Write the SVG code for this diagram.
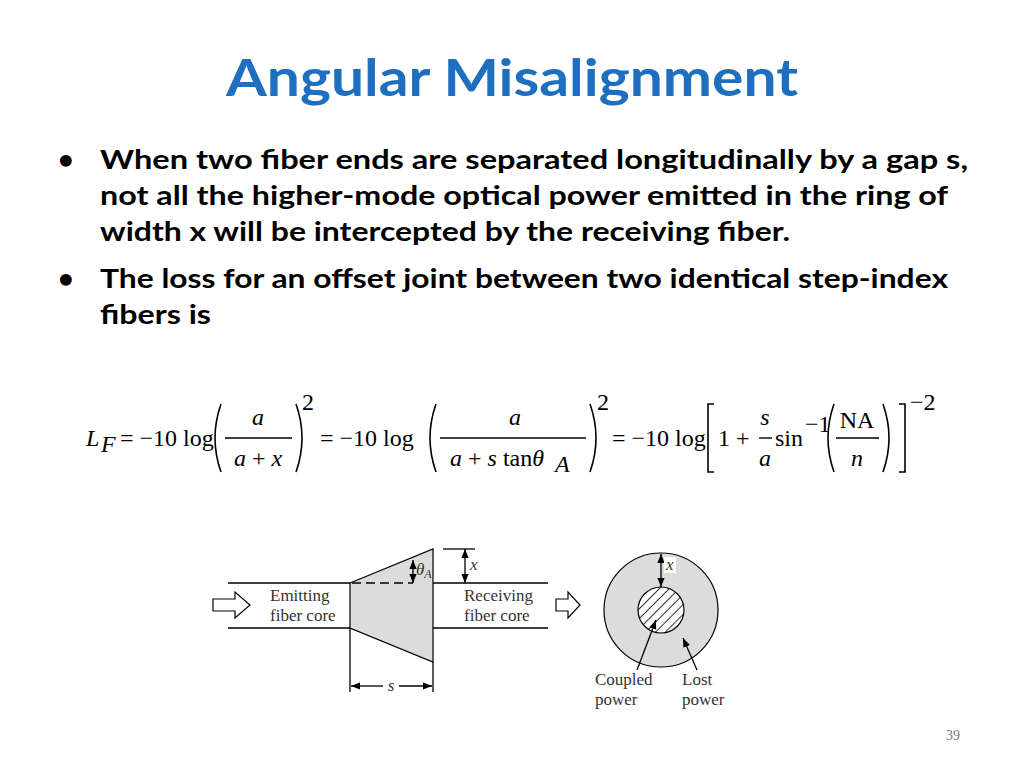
<svg xmlns="http://www.w3.org/2000/svg" width="1024" height="768" viewBox="0 0 1024 768">
<defs>
<style>
.b{font-family:Lato,"Liberation Sans",sans-serif;font-weight:bold;font-size:27px;fill:#000}
.m{font-family:"Liberation Serif",serif;font-size:24px;fill:#000}
.i{font-style:italic}
.f{font-family:"Liberation Serif",serif;font-size:17px;fill:#333}
.ln{stroke:#000;stroke-width:1.3;fill:none}
.p{stroke:#000;stroke-width:1.6;fill:none}
</style>
<pattern id="h" width="7" height="7" patternUnits="userSpaceOnUse" patternTransform="rotate(45)">
<rect width="7" height="7" fill="#fff"/><line x1="0" y1="0" x2="0" y2="7" stroke="#000" stroke-width="1.6"/>
</pattern>
<marker id="a" viewBox="0 0 10 10" refX="10" refY="5" markerWidth="7" markerHeight="7" orient="auto-start-reverse"><path d="M0,1 L10,5 L0,9 Z" fill="#000"/></marker>
</defs>
<rect width="1024" height="768" fill="#fff"/>
<text x="512" y="96" text-anchor="middle" font-family="Lato,'Liberation Sans',sans-serif" font-weight="bold" font-size="52" fill="#1F6FC0" textLength="572" lengthAdjust="spacingAndGlyphs">Angular Misalignment</text>
<g id="bullets">
<text x="58" y="169" class="b">•</text>
<text x="100" y="169" class="b" textLength="868" lengthAdjust="spacingAndGlyphs">When two fiber ends are separated longitudinally by a gap s,</text>
<text x="100" y="205" class="b" textLength="848" lengthAdjust="spacingAndGlyphs">not all the higher-mode optical power emitted in the ring of</text>
<text x="100" y="241" class="b" textLength="690" lengthAdjust="spacingAndGlyphs">width x will be intercepted by the receiving fiber.</text>
<text x="58" y="288" class="b">•</text>
<text x="100" y="288" class="b" textLength="848" lengthAdjust="spacingAndGlyphs">The loss for an offset joint between two identical step-index</text>
<text x="100" y="324" class="b" textLength="111" lengthAdjust="spacingAndGlyphs">fibers is</text>
</g>
<g id="equation">
<text x="86" y="446" class="m i">L</text><text x="101" y="452" class="m i" font-size="16">F</text>
<text x="120" y="446" class="m">= −10 log</text>
<path class="p" d="M221,404 Q209,438 221,472"/>
<text x="258" y="425" class="m i" text-anchor="middle">a</text>
<line x1="225" y1="438" x2="292" y2="438" stroke="#000" stroke-width="1.4"/>
<text x="258" y="466" class="m" text-anchor="middle"><tspan class="i">a</tspan> + <tspan class="i">x</tspan></text>
<path class="p" d="M296,404 Q308,438 296,472"/>
<text x="302" y="410" class="m" font-size="16">2</text>
<text x="320" y="446" class="m">= −10 log</text>
<path class="p" d="M436,404 Q424,438 436,472"/>
<text x="515" y="425" class="m i" text-anchor="middle">a</text>
<line x1="440" y1="438" x2="586" y2="438" stroke="#000" stroke-width="1.4"/>
<text x="450" y="466" class="m"><tspan class="i">a</tspan> + <tspan class="i">s</tspan> tan<tspan class="i">θ</tspan></text>
<text x="555" y="472" class="m i" font-size="15">A</text>
<path class="p" d="M590,404 Q602,438 590,472"/>
<text x="597" y="410" class="m" font-size="16">2</text>
<text x="612" y="446" class="m">= −10 log</text>
<path class="p" d="M714,404 L708,404 L708,472 L714,472"/>
<text x="718" y="446" class="m">1 +</text>
<text x="765" y="425" class="m i" text-anchor="middle">s</text>
<line x1="759" y1="438" x2="772" y2="438" stroke="#000" stroke-width="1.4"/>
<text x="765" y="466" class="m i" text-anchor="middle">a</text>
<text x="775" y="446" class="m">sin</text><text x="805" y="432" class="m" font-size="13">−1</text>
<path class="p" d="M834,404 Q822,438 834,472"/>
<text x="857" y="428" class="m" text-anchor="middle">NA</text>
<line x1="836" y1="438" x2="879" y2="438" stroke="#000" stroke-width="1.4"/>
<text x="857" y="466" class="m i" text-anchor="middle">n</text>
<path class="p" d="M883,404 Q895,438 883,472"/>
<path class="p" d="M899,404 L905,404 L905,472 L899,472"/>
<text x="910" y="410" class="m" font-size="16">−2</text>
</g>
<g id="figure">
<polygon points="350,583 433,549 433,662 350,628" fill="#dcdcdc" stroke="#000" stroke-width="1.2"/>
<line class="ln" x1="228" y1="583" x2="350" y2="583"/>
<line class="ln" x1="228" y1="628" x2="350" y2="628"/>
<line class="ln" x1="433" y1="583" x2="548" y2="583"/>
<line class="ln" x1="433" y1="628" x2="548" y2="628"/>
<line class="ln" x1="352" y1="583" x2="413" y2="583" stroke-dasharray="9,5"/>
<line class="ln" x1="413" y1="560" x2="413" y2="583" marker-start="url(#a)" marker-end="url(#a)"/>
<text x="416" y="575" class="f i">θ<tspan font-size="12" dy="3">A</tspan></text>
<line class="ln" x1="443" y1="549" x2="475" y2="549"/>
<line class="ln" x1="465" y1="549" x2="465" y2="583" marker-start="url(#a)" marker-end="url(#a)"/>
<text x="470" y="570" class="f i">x</text>
<line class="ln" x1="350" y1="628" x2="350" y2="692"/>
<line class="ln" x1="433" y1="662" x2="433" y2="692"/>
<line class="ln" x1="351" y1="686" x2="383" y2="686" marker-start="url(#a)"/>
<line class="ln" x1="399" y1="686" x2="432" y2="686" marker-end="url(#a)"/>
<text x="391" y="691" class="f i" text-anchor="middle">s</text>
<polygon points="213,599 235,599 235,592 250,605 235,618 235,611 213,611" fill="#fff" stroke="#000" stroke-width="1.2"/>
<polygon points="556,599 568,599 568,592 580,605 568,618 568,611 556,611" fill="#fff" stroke="#000" stroke-width="1.2"/>
<text x="270" y="601" class="f">Emitting</text>
<text x="270" y="621" class="f">fiber core</text>
<text x="464" y="601" class="f">Receiving</text>
<text x="464" y="621" class="f">fiber core</text>
<circle cx="661" cy="610" r="57" fill="#dcdcdc" stroke="#000" stroke-width="1.2"/>
<circle cx="661" cy="610" r="23" fill="url(#h)" stroke="#000" stroke-width="1.2"/>
<line class="ln" x1="661" y1="554" x2="661" y2="587" marker-start="url(#a)" marker-end="url(#a)"/>
<rect x="664" y="557" width="12" height="16" fill="#fff"/>
<text x="666" y="570" class="f i">x</text>
<line class="ln" x1="637" y1="670" x2="656" y2="620" marker-end="url(#a)"/>
<line class="ln" x1="697" y1="670" x2="683" y2="638" marker-end="url(#a)"/>
<text x="595" y="685" class="f">Coupled</text>
<text x="595" y="705" class="f">power</text>
<text x="682" y="685" class="f">Lost</text>
<text x="682" y="705" class="f">power</text>
</g>
<text x="946" y="740" font-family="'Liberation Serif',serif" font-size="14" fill="#777">39</text>
</svg>
